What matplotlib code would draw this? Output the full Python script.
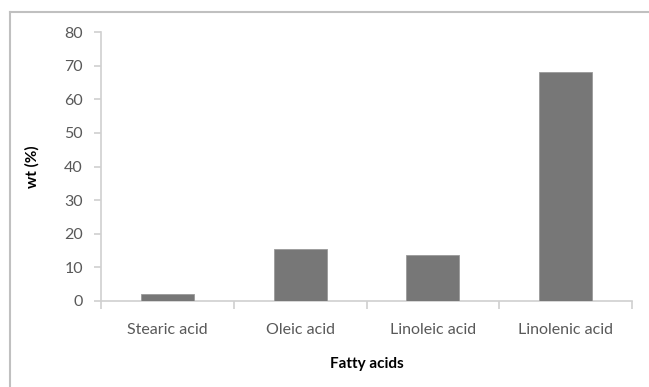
import matplotlib.pyplot as plt
from matplotlib.lines import Line2D
import numpy as np

# data
acids = ['Stearic acid', 'Oleic acid', 'Linoleic acid', 'Linolenic acid']
wt = [2.2, 15.6, 13.6, 68.0]
yticks = [0, 10, 20, 30, 40, 50, 60, 70, 80]

plt.rcParams['font.family'] = ['Lato', 'DejaVu Sans']

fig = plt.figure(figsize=(6.49, 3.87), dpi=100)
ax = fig.add_axes([101/649, 1 - 301/387, (632 - 101)/649, (301 - 32)/387])

x = np.arange(len(acids))
ax.bar(x, wt, width=0.4, color='#777777', edgecolor='#9a9a9a', linewidth=0.6, zorder=3)

ax.set_xlim(-0.5, len(acids) - 0.5)
ax.set_ylim(0, 80)
ax.set_yticks(yticks)
ax.set_xticks(x)
ax.set_xticklabels(acids)
ax.set_xticks(np.arange(len(acids) + 1) - 0.5, minor=True)

axis_col = '#d0d0d0'
for s in ['top', 'right']:
    ax.spines[s].set_visible(False)
for s in ['left', 'bottom']:
    ax.spines[s].set_color(axis_col)
    ax.spines[s].set_linewidth(1.2)

ax.tick_params(axis='y', length=5, width=1.2, color=axis_col, labelcolor='#595959', labelsize=11.5, pad=8)
ax.tick_params(axis='x', which='major', length=0, labelcolor='#595959', labelsize=11.5, pad=16)
ax.tick_params(axis='x', which='minor', length=6, width=1.2, color=axis_col)

ax.set_ylabel('wt (%)', fontweight='bold', fontsize=11, labelpad=18)
ax.set_xlabel('Fatty acids', fontweight='bold', fontsize=11, labelpad=14)

# chart border
fig.add_artist(Line2D([10/649, 10/649], [0, 1 - 12/387], color='#c0c0c0', lw=1.5))
fig.add_artist(Line2D([10/649, 1], [1 - 12/387, 1 - 12/387], color='#c0c0c0', lw=1.5))

fig.savefig('out.png', dpi=100)
